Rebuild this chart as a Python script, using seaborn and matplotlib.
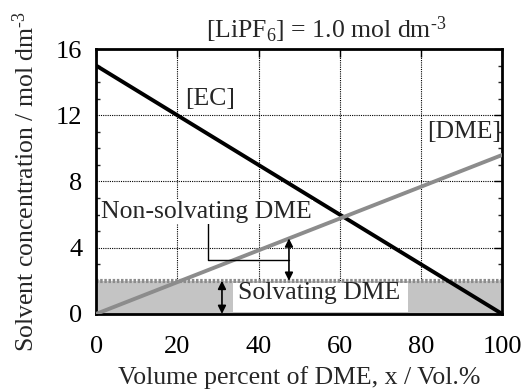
import numpy as np
import pandas as pd
import seaborn as sns
import matplotlib
matplotlib.use("Agg")
import matplotlib.pyplot as plt
from matplotlib.ticker import MultipleLocator
from matplotlib.patches import Rectangle

# Data
dme_vol = [0, 100]
ec_conc = [15.0, 0.0]
dme_conc = [0.0, 9.6]
solvating_level = 2.0
x_ticks = [0, 20, 40, 60, 80, 100]
y_ticks = [0, 4, 8, 12, 16]

df = pd.DataFrame({"x": dme_vol * 2,
                   "c": ec_conc + dme_conc,
                   "s": ["EC"] * 2 + ["DME"] * 2})

sns.set_theme(style="white")
plt.rcParams['font.family'] = ['Liberation Serif', 'DejaVu Serif']
plt.rcParams['mathtext.fontset'] = 'custom'
plt.rcParams['mathtext.rm'] = 'Liberation Serif'
plt.rcParams['mathtext.it'] = 'Liberation Serif:italic'

FS = 18.5

fig = plt.figure(figsize=(5.28, 3.89), dpi=100)
ax = fig.add_axes([0.182, 0.193, 0.769, 0.681])

# shaded solvating region
ax.fill_between([0, 100], 0, solvating_level, color="#c4c4c4", zorder=1, lw=0)
ax.axhline(solvating_level, color="#8c8c8c", lw=3, ls=(0, (0.6, 0.4)), zorder=2)

sns.lineplot(data=df, x="x", y="c", hue="s", palette={"EC": "black", "DME": "#8c8c8c"},
             linewidth=2.8, legend=False, ax=ax, zorder=4)

ax.set_xlim(0, 100)
ax.set_ylim(0, 16)
ax.set_xticks(x_ticks)
ax.set_yticks(y_ticks)
ax.yaxis.set_minor_locator(MultipleLocator(1))
ax.grid(True, which="major", ls=(0, (1, 1)), color="black", lw=0.8, zorder=0)
ax.set_axisbelow(True)
ax.tick_params(axis="both", which="major", direction="in", length=6, width=1,
               top=True, right=True, labelsize=19, colors="black")
ax.tick_params(axis="x", which="major", pad=16)
ax.tick_params(axis="y", which="major", pad=10)
ax.tick_params(axis="y", which="minor", direction="in", length=3, width=1,
               left=True, right=True)
for s in ax.spines.values():
    s.set_linewidth(2)
    s.set_color("black")

ax.set_xlabel("Volume percent of DME, x / Vol.%", fontsize=FS, labelpad=6)
ax.set_ylabel(r"Solvent concentration / mol dm$^{\text{-3}}$", fontsize=FS, labelpad=12)
ax.text(56.6, 16.68, r"[LiPF$_6$] = 1.0 mol dm$^{\text{-3}}$", ha="center", va="baseline", fontsize=FS)

ax.text(28, 13.0, "[EC]", fontsize=FS, ha="center", va="center", zorder=5)
ax.text(90.6, 11.0, "[DME]", fontsize=FS, ha="center", va="center", zorder=5)
ax.text(27.2, 6.15, "Non-solvating DME", fontsize=FS, ha="center", va="center", zorder=6,
        bbox=dict(facecolor="white", edgecolor="none", pad=0.5))
ax.add_patch(Rectangle((33.7, 0.1), 43.1, 1.75, facecolor="white", edgecolor="none", zorder=5))
ax.text(55, 1.25, "Solvating DME", fontsize=FS, ha="center", va="center", zorder=6)

# arrows
arr = dict(arrowstyle="<|-|>", color="black", lw=1.2, mutation_scale=12, shrinkA=0, shrinkB=0)
ax.annotate("", xy=(31, 0), xytext=(31, solvating_level), arrowprops=arr, zorder=7)
ax.annotate("", xy=(47.5, solvating_level), xytext=(47.5, 4.56), arrowprops=arr, zorder=7)
ax.plot([27.6, 27.6, 47.5], [5.6, 3.27, 3.27], color="black", lw=1, zorder=5)

fig.savefig("out.png", dpi=100)
